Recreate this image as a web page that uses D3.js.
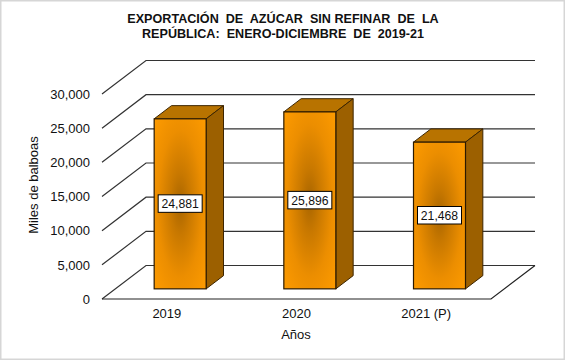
<!DOCTYPE html>
<html>
<head>
<meta charset="utf-8">
<script src="https://cdn.jsdelivr.net/npm/d3@7"></script>
<style>
html, body { margin: 0; padding: 0; background: #fff; }
svg { display: block; }
text { font-family: "Liberation Sans", Arial, sans-serif; fill: #111; }
</style>
</head>
<body>
<svg id="chart"></svg>
<script>
const years = ["2019", "2020", "2021 (P)"];
const values = [24881, 25896, 21468];
const yTicks = [0, 5000, 10000, 15000, 20000, 25000, 30000];
const titleLines = ["EXPORTACIÓN  DE  AZÚCAR  SIN REFINAR  DE  LA", "REPÚBLICA:  ENERO-DICIEMBRE  DE  2019-21"];

const width = 565, height = 360;
const svg = d3.select("#chart").attr("width", width).attr("height", height);

// floor depth of the fake 3d box
const depthX = 44, depthY = 33.5;
const barW = 52;
const barNear = 0.303, barFar = 0.697;

const x = d3.scaleBand().domain(years).range([102, 491]);
const y = d3.scaleLinear().domain([0, 30000]).range([299, 94]);
const fmt = d3.format(",");

svg.append("rect")
    .attr("x", 0.75).attr("y", 0.75)
    .attr("width", width - 1.5).attr("height", height - 1.5)
    .attr("fill", "#fff")
    .attr("stroke", "#d6d6d6")
    .attr("stroke-width", 1.5);

const defs = svg.append("defs");
const grad = defs.append("radialGradient")
    .attr("id", "barFill")
    .attr("cx", 0.5).attr("cy", 0.5).attr("r", 0.72);
[[0, "#a86500"], [0.25, "#c87800"], [0.6, "#ec8e00"], [1, "#ff9c00"]].forEach(s => {
    grad.append("stop").attr("offset", s[0]).attr("stop-color", s[1]);
});

// grid, left wall diagonal then back wall line
svg.append("g").selectAll("path")
    .data(yTicks)
    .join("path")
    .attr("d", d => `M${x.range()[0]},${y(d)}L${x.range()[0] + depthX},${y(d) - depthY}L${x.range()[1] + depthX},${y(d) - depthY}`)
    .attr("fill", "none")
    .attr("stroke", "#333")
    .attr("stroke-width", 1.2);

// floor
svg.append("path")
    .attr("d", `M${x.range()[0]},${y(0)}L${x.range()[1]},${y(0)}L${x.range()[1] + depthX},${y(0) - depthY}`)
    .attr("fill", "none")
    .attr("stroke", "#222")
    .attr("stroke-width", 1.2);

const bars = svg.append("g").selectAll("g")
    .data(years.map((d, i) => ({year: d, value: values[i]})))
    .join("g");

const bx0 = d => x(d.year) + x.bandwidth() / 2 - barW / 2 + depthX * barNear;
const bx1 = d => bx0(d) + barW;
const by0 = () => y(0) - depthY * barNear;
const byT = d => y(d.value) - depthY * barNear;
const dx = depthX * (barFar - barNear), dy = depthY * (barFar - barNear);

bars.append("path")
    .attr("d", d => `M${bx0(d)},${byT(d)}L${bx0(d) + dx},${byT(d) - dy}L${bx1(d) + dx},${byT(d) - dy}L${bx1(d)},${byT(d)}Z`)
    .attr("fill", "#b87300")
    .attr("stroke", "#3d2500");
bars.append("path")
    .attr("d", d => `M${bx1(d)},${byT(d)}L${bx1(d) + dx},${byT(d) - dy}L${bx1(d) + dx},${by0() - dy}L${bx1(d)},${by0()}Z`)
    .attr("fill", "#9c6000")
    .attr("stroke", "#3d2500");
bars.append("rect")
    .attr("x", bx0)
    .attr("y", byT)
    .attr("width", barW)
    .attr("height", d => by0() - byT(d))
    .attr("fill", "url(#barFill)")
    .attr("stroke", "#2b1a00")
    .attr("stroke-width", 1.2);

// value boxes
bars.append("rect")
    .attr("x", d => bx0(d) + barW / 2 - 22)
    .attr("y", d => (byT(d) + by0()) / 2 - 9)
    .attr("width", 44)
    .attr("height", 17.5)
    .attr("fill", "#fff")
    .attr("stroke", "#000");
bars.append("text")
    .attr("x", d => bx0(d) + barW / 2)
    .attr("y", d => (byT(d) + by0()) / 2 + 4.5)
    .attr("text-anchor", "middle")
    .style("font-size", "12.2px")
    .text(d => fmt(d.value));

// axes
const yAxis = svg.append("g")
    .attr("transform", `translate(${x.range()[0]},0)`)
    .call(d3.axisLeft(y).tickValues(yTicks).tickFormat(fmt).tickSize(0).tickPadding(12));
const xAxis = svg.append("g")
    .attr("transform", `translate(0,${y(0)})`)
    .call(d3.axisBottom(x).tickSize(0).tickPadding(10));
yAxis.select(".domain").remove();
xAxis.select(".domain").remove();
svg.selectAll(".tick text")
    .style("font-family", '"Liberation Sans", Arial, sans-serif')
    .style("font-size", "13px");

svg.append("text")
    .text("Años")
    .attr("x", 296)
    .attr("y", 339)
    .attr("text-anchor", "middle")
    .style("font-size", "13px");
svg.append("text")
    .text("Miles de balboas")
    .attr("transform", "translate(38,185) rotate(-90)")
    .attr("text-anchor", "middle")
    .style("font-size", "13px");

svg.append("g").selectAll("text")
    .data(titleLines)
    .join("text")
    .text(d => d)
    .attr("x", 283)
    .attr("y", (d, i) => 23 + i * 15)
    .attr("text-anchor", "middle")
    .style("white-space", "pre")
    .style("font-size", "12.6px")
    .style("font-weight", "bold");
</script>
</body>
</html>
